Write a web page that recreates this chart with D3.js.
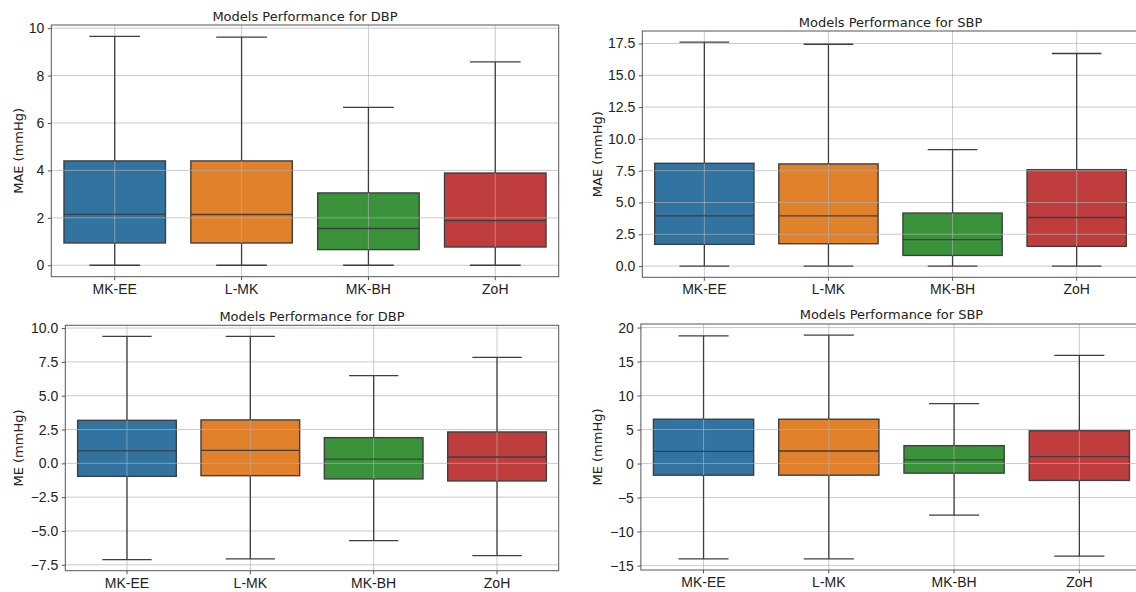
<!DOCTYPE html>
<html>
<head>
<meta charset="utf-8">
<script src="https://cdn.jsdelivr.net/npm/d3@7/dist/d3.min.js"></script>
<style>
  body { margin: 0; background: #fff; }
  svg { display: block; font-family: 'DejaVu Sans', sans-serif; }
  .grid line { stroke: #b0b0b0; stroke-opacity: 0.75; stroke-width: 0.9; }
  .box { stroke: #3f3f3f; stroke-width: 1.4; }
  .whisker, .cap, .median { stroke: #3f3f3f; stroke-width: 1.3; }
  .spine { fill: none; stroke: #555; stroke-width: 1; }
  .axis path { display: none; }
  .axis line { stroke: #555; }
  .axis text { fill: #222; font-size: 14px; }
  .title { font-size: 13px; fill: #222; }
  .y-label { font-size: 13px; fill: #222; }
</style>
</head>
<body>
<svg id="chart"></svg>
<script>
const models = ['MK-EE', 'L-MK', 'MK-BH', 'ZoH'];

// [lower whisker, Q1, median, Q3, upper whisker] for each model
const maeDbp = [
  [0, 0.94, 2.15, 4.40, 9.65],
  [0, 0.94, 2.14, 4.40, 9.62],
  [0, 0.66, 1.55, 3.05, 6.66],
  [0, 0.77, 1.88, 3.89, 8.58]
];
const maeSbp = [
  [0, 1.71, 3.95, 8.08, 17.6],
  [0, 1.76, 3.95, 8.03, 17.44],
  [0, 0.84, 2.08, 4.17, 9.16],
  [0, 1.55, 3.82, 7.58, 16.71]
];
const meDbp = [
  [-7.11, -0.96, 0.92, 3.18, 9.38],
  [-7.06, -0.91, 0.96, 3.21, 9.38],
  [-5.71, -1.15, 0.32, 1.90, 6.48],
  [-6.82, -1.30, 0.47, 2.32, 7.83]
];
const meSbp = [
  [-14.01, -1.71, 1.80, 6.52, 18.79],
  [-14.01, -1.71, 1.85, 6.52, 18.88],
  [-7.59, -1.41, 0.54, 2.63, 8.80],
  [-13.62, -2.48, 1.02, 4.82, 15.91]
];

const maeDbpTicks = [0, 2, 4, 6, 8, 10];
const maeSbpTicks = [0, 2.5, 5, 7.5, 10, 12.5, 15, 17.5];
const meDbpTicks = [-7.5, -5, -2.5, 0, 2.5, 5, 7.5, 10];
const meSbpTicks = [-15, -10, -5, 0, 5, 10, 15, 20];

const palette = ['#3274a1', '#e1812c', '#3a923a', '#c03d3e'];

class BoxPanel {

  constructor(_config, _data) {
    this.config = {
      parent: _config.parent,
      left: _config.left,
      top: _config.top,
      right: _config.right,
      bottom: _config.bottom,
      title: _config.title,
      yLabel: _config.yLabel,
      yLabelX: _config.yLabelX,
      titleY: _config.titleY,
      ticks: _config.ticks,
      tickFormat: _config.tickFormat
    };
    this.data = models.map((m, i) => ({
      model: m,
      lo: _data[i][0], q1: _data[i][1], med: _data[i][2], q3: _data[i][3], hi: _data[i][4]
    }));
    this.initVis();
  }

  initVis() {
    let vis = this;
    const c = vis.config;
    vis.width = c.right - c.left;
    vis.height = c.bottom - c.top;

    vis.xScale = d3.scaleBand()
        .domain(models)
        .range([0, vis.width])
        .padding(0);

    // matplotlib style autoscale: 5% margin around whisker extent
    const lo = d3.min(vis.data, d => d.lo);
    const hi = d3.max(vis.data, d => d.hi);
    const pad = (hi - lo) * 0.05;
    vis.yScale = d3.scaleLinear()
        .domain([lo - pad, hi + pad])
        .range([vis.height, 0]);

    vis.chart = c.parent.append('g')
        .attr('transform', `translate(${c.left},${c.top})`);

    vis.renderVis();
  }

  renderVis() {
    let vis = this;
    const c = vis.config;
    const bw = vis.xScale.bandwidth() * 0.8;
    const cx = d => vis.xScale(d.model) + vis.xScale.bandwidth() / 2;

    // boxes
    vis.chart.selectAll('.box')
        .data(vis.data)
      .join('rect')
        .attr('class', 'box')
        .attr('x', d => cx(d) - bw / 2)
        .attr('width', bw)
        .attr('y', d => vis.yScale(d.q3))
        .attr('height', d => vis.yScale(d.q1) - vis.yScale(d.q3))
        .attr('fill', (d, i) => palette[i]);

    // grid sits above the box patches, below the lines
    const grid = vis.chart.append('g').attr('class', 'grid');
    grid.selectAll('.hgrid')
        .data(c.ticks)
      .join('line')
        .attr('x1', 0).attr('x2', vis.width)
        .attr('y1', d => vis.yScale(d)).attr('y2', d => vis.yScale(d));
    grid.selectAll('.vgrid')
        .data(models)
      .join('line')
        .attr('class', 'vgrid')
        .attr('y1', 0).attr('y2', vis.height)
        .attr('x1', d => vis.xScale(d) + vis.xScale.bandwidth() / 2)
        .attr('x2', d => vis.xScale(d) + vis.xScale.bandwidth() / 2);

    // whiskers
    vis.chart.selectAll('.whisker-up')
        .data(vis.data)
      .join('line')
        .attr('class', 'whisker')
        .attr('x1', cx).attr('x2', cx)
        .attr('y1', d => vis.yScale(d.q3)).attr('y2', d => vis.yScale(d.hi));
    vis.chart.selectAll('.whisker-down')
        .data(vis.data)
      .join('line')
        .attr('class', 'whisker')
        .attr('x1', cx).attr('x2', cx)
        .attr('y1', d => vis.yScale(d.q1)).attr('y2', d => vis.yScale(d.lo));

    // caps (half the box width)
    ['lo', 'hi'].forEach(k => {
      vis.chart.selectAll('.cap-' + k)
          .data(vis.data)
        .join('line')
          .attr('class', 'cap cap-' + k)
          .attr('x1', d => cx(d) - bw / 4).attr('x2', d => cx(d) + bw / 4)
          .attr('y1', d => vis.yScale(d[k])).attr('y2', d => vis.yScale(d[k]));
    });

    // medians
    vis.chart.selectAll('.median')
        .data(vis.data)
      .join('line')
        .attr('class', 'median')
        .attr('x1', d => cx(d) - bw / 2).attr('x2', d => cx(d) + bw / 2)
        .attr('y1', d => vis.yScale(d.med)).attr('y2', d => vis.yScale(d.med));

    // axes
    const yAxis = d3.axisLeft(vis.yScale)
        .tickValues(c.ticks)
        .tickFormat(c.tickFormat)
        .tickSize(3.5)
        .tickPadding(3.5);
    const xAxis = d3.axisBottom(vis.xScale)
        .tickSize(3.5)
        .tickPadding(3.5);

    vis.chart.append('g')
        .attr('class', 'axis y-axis')
        .call(yAxis);
    vis.chart.append('g')
        .attr('class', 'axis x-axis')
        .attr('transform', `translate(0,${vis.height})`)
        .call(xAxis);

    vis.chart.append('rect')
        .attr('class', 'spine')
        .attr('width', vis.width)
        .attr('height', vis.height);

    // title and y label
    c.parent.append('text')
        .attr('class', 'title')
        .attr('x', (c.left + c.right) / 2)
        .attr('y', c.titleY)
        .attr('text-anchor', 'middle')
        .text(c.title);

    c.parent.append('text')
        .attr('class', 'y-label')
        .attr('transform', `translate(${c.yLabelX},${(c.top + c.bottom) / 2}) rotate(-90)`)
        .attr('text-anchor', 'middle')
        .attr('dominant-baseline', 'central')
        .text(c.yLabel);
  }
}

const svg = d3.select('#chart')
    .attr('width', 1136)
    .attr('height', 592);

svg.append('rect').attr('width', 1136).attr('height', 592).attr('fill', '#fff');

const fmtInt = d3.format('d');
const fmt1 = d3.format('.1f');

new BoxPanel({
  parent: svg, left: 51.3, top: 25, right: 558.7, bottom: 276.7,
  title: 'Models Performance for DBP', titleY: 20.7,
  yLabel: 'MAE (mmHg)', yLabelX: 18.7,
  ticks: maeDbpTicks, tickFormat: fmtInt
}, maeDbp);

new BoxPanel({
  parent: svg, left: 642.3, top: 31, right: 1138.7, bottom: 277.3,
  title: 'Models Performance for SBP', titleY: 26.7,
  yLabel: 'MAE (mmHg)', yLabelX: 597,
  ticks: maeSbpTicks, tickFormat: fmt1
}, maeSbp);

new BoxPanel({
  parent: svg, left: 65.3, top: 325.3, right: 558.7, bottom: 570.7,
  title: 'Models Performance for DBP', titleY: 320.7,
  yLabel: 'ME (mmHg)', yLabelX: 18.7,
  ticks: meDbpTicks, tickFormat: fmt1
}, meDbp);

new BoxPanel({
  parent: svg, left: 640.9, top: 324, right: 1142, bottom: 570,
  title: 'Models Performance for SBP', titleY: 319,
  yLabel: 'ME (mmHg)', yLabelX: 597,
  ticks: meSbpTicks, tickFormat: fmtInt
}, meSbp);
</script>
</body>
</html>
